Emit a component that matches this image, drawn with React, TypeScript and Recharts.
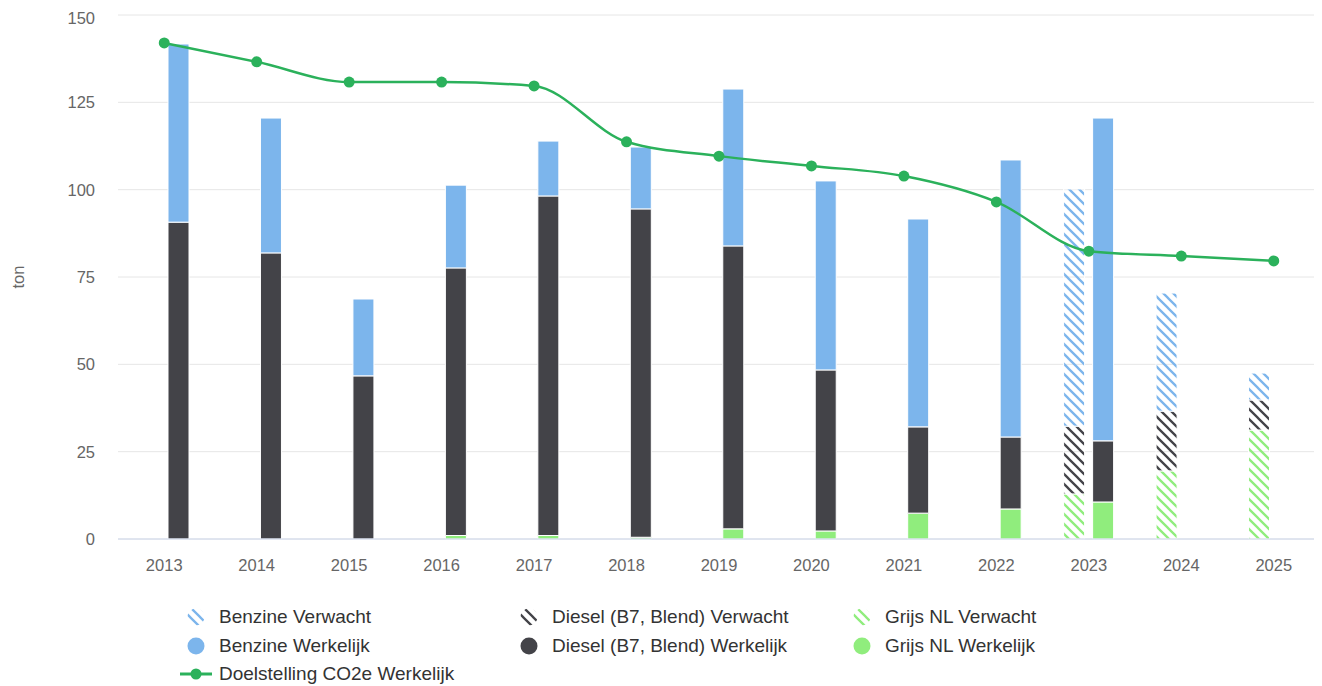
import React from 'react';
import { ComposedChart, Bar, Line, XAxis, YAxis, CartesianGrid, Legend } from 'recharts';

const years = ['2013', '2014', '2015', '2016', '2017', '2018', '2019', '2020', '2021', '2022', '2023', '2024', '2025'];
const benzineWerkelijk = [51.0, 38.6, 22.0, 23.7, 15.7, 17.7, 44.9, 54.1, 59.5, 79.3, 92.4, null, null];
const dieselWerkelijk = [90.7, 81.9, 46.7, 76.6, 97.2, 94.0, 81.0, 46.1, 24.7, 20.6, 17.5, null, null];
const grijsWerkelijk = [0, 0, 0, 1.0, 1.0, 0.5, 2.9, 2.3, 7.4, 8.6, 10.6, null, null];
const benzineVerwacht = [null, null, null, null, null, null, null, null, null, null, 67.9, 33.8, 7.7];
const dieselVerwacht = [null, null, null, null, null, null, null, null, null, null, 19.4, 17.1, 8.6];
const grijsVerwacht = [null, null, null, null, null, null, null, null, null, null, 12.9, 19.5, 31.2];
const doelstelling = [142.0, 136.6, 130.8, 130.8, 129.7, 113.7, 109.6, 106.8, 103.9, 96.5, 82.4, 81.0, 79.6];
const yTicks = [0, 25, 50, 75, 100, 125, 150];

const BENZ = '#7cb5ec';
const DIES = '#434348';
const GRIJS = '#90ed7d';
const GREEN = '#2bb15b';
const FONT = '"Liberation Sans", Arial, Helvetica, sans-serif';

const data = years.map((y, i) => ({
  year: y,
  grijsV: grijsVerwacht[i],
  dieselV: dieselVerwacht[i],
  benzineV: benzineVerwacht[i],
  grijsW: grijsWerkelijk[i],
  dieselW: dieselWerkelijk[i],
  benzineW: benzineWerkelijk[i],
  doel: doelstelling[i],
}));

const Patterns = () => (
  <svg width={0} height={0} style={{ position: 'absolute' }}>
    <defs>
      {[
        ['pBenz', BENZ],
        ['pDies', DIES],
        ['pGrijs', GRIJS],
      ].map(([id, c]) => (
        <pattern key={id} id={id} patternUnits="userSpaceOnUse" width={10} height={10}>
          <path d="M 0 0 L 10 10 M 9 -1 L 11 1 M -1 9 L 1 11" stroke={c} strokeWidth={2.3} fill="none" />
        </pattern>
      ))}
    </defs>
  </svg>
);

const legendRows = [
  [
    { name: 'Benzine Verwacht', fill: 'url(#pBenz)', kind: 'bar' },
    { name: 'Diesel (B7, Blend) Verwacht', fill: 'url(#pDies)', kind: 'bar' },
    { name: 'Grijs NL Verwacht', fill: 'url(#pGrijs)', kind: 'bar' },
  ],
  [
    { name: 'Benzine Werkelijk', fill: BENZ, kind: 'bar' },
    { name: 'Diesel (B7, Blend) Werkelijk', fill: DIES, kind: 'bar' },
    { name: 'Grijs NL Werkelijk', fill: GRIJS, kind: 'bar' },
  ],
  [{ name: 'Doelstelling CO2e Werkelijk', fill: GREEN, kind: 'line' }],
];

const LegendContent = () => (
  <div style={{ fontFamily: FONT, fontSize: 19, color: '#333' }}>
    {legendRows.map((row, r) => (
      <div key={r} style={{ display: 'flex', height: 28.5 }}>
        {row.map((it) => (
          <div key={it.name} style={{ width: 333, display: 'flex', alignItems: 'center' }}>
            <svg width={34} height={20} style={{ marginRight: 5, flexShrink: 0 }}>
              {it.kind === 'bar' ? (
                <circle cx={16} cy={10} r={8.5} fill={it.fill} />
              ) : (
                <g>
                  <line x1={0} y1={10} x2={32} y2={10} stroke={GREEN} strokeWidth={3} />
                  <circle cx={16} cy={10} r={5.5} fill={GREEN} />
                </g>
              )}
            </svg>
            <span>{it.name}</span>
          </div>
        ))}
      </div>
    ))}
  </div>
);

const YLabel = (props: any) => {
  const vb = props.viewBox || {};
  const cy = (vb.y || 0) + (vb.height || 0) / 2;
  const cx = 10;
  return (
    <text
      x={cx}
      y={cy}
      transform={`rotate(-90 ${cx} ${cy})`}
      textAnchor="middle"
      dominantBaseline="central"
      fill="#666"
      fontSize={16.5}
      fontFamily={FONT}
    >
      ton
    </text>
  );
};

export default function App() {
  return (
    <div style={{ width: 1314, height: 678, position: 'relative' }}>
      <Patterns />
      <ComposedChart
        width={1314}
        height={678}
        data={data}
        margin={{ top: 7, right: 2, left: 0, bottom: 117 }}
        barSize={21}
        barGap={8}
      >
        <CartesianGrid vertical={false} stroke="#e6e6e6" />
        <XAxis
          dataKey="year"
          height={30}
          tickLine={false}
          axisLine={{ stroke: '#ccd6eb' }}
          tick={{ fill: '#666', fontSize: 16.5, fontFamily: FONT }}
          tickMargin={14}
        />
        <YAxis
          width={110}
          domain={[0, 150]}
          ticks={yTicks}
          axisLine={false}
          tickLine={false}
          tick={{ fill: '#666', fontSize: 16.5, fontFamily: FONT }}
          tickMargin={17}
          label={<YLabel />}
        />
        <Legend
          layout="horizontal"
          verticalAlign="middle"
          align="center"
          content={<LegendContent />}
          wrapperStyle={{ position: 'absolute', left: 172, top: 595, width: 1120, height: 86 }}
        />
        <Bar dataKey="grijsV" stackId="v" fill="url(#pGrijs)" stroke="#fff" strokeWidth={1} isAnimationActive={false} />
        <Bar dataKey="dieselV" stackId="v" fill="url(#pDies)" stroke="#fff" strokeWidth={1} isAnimationActive={false} />
        <Bar dataKey="benzineV" stackId="v" fill="url(#pBenz)" stroke="#fff" strokeWidth={1} isAnimationActive={false} />
        <Bar dataKey="grijsW" stackId="w" fill={GRIJS} stroke="#fff" strokeWidth={1} isAnimationActive={false} />
        <Bar dataKey="dieselW" stackId="w" fill={DIES} stroke="#fff" strokeWidth={1} isAnimationActive={false} />
        <Bar dataKey="benzineW" stackId="w" fill={BENZ} stroke="#fff" strokeWidth={1} isAnimationActive={false} />
        <Line
          dataKey="doel"
          type="monotone"
          stroke={GREEN}
          strokeWidth={2.5}
          dot={{ r: 5.5, fill: GREEN, stroke: 'none' }}
          activeDot={false}
          isAnimationActive={false}
        />
      </ComposedChart>
    </div>
  );
}
